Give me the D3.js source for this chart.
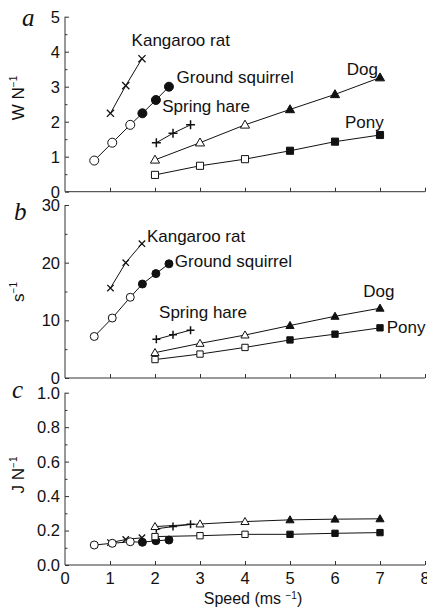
<!DOCTYPE html>
<html>
<head>
<meta charset="utf-8">
<script src="https://cdn.jsdelivr.net/npm/d3@7"></script>
<style>
  body { margin: 0; background: #fff; }
  svg text { fill: #111; }
</style>
</head>
<body>
<div id="chart"></div>
<script>
// speeds (m/s) per animal
const ratSpeed = [1.01, 1.35, 1.71];
const squirrelSpeed = [0.65, 1.05, 1.45, 1.72, 2.02, 2.31];
const hareSpeed = [2.03, 2.40, 2.79];
const dogSpeed = [2, 3, 4, 5, 6, 7];
const ponySpeed = [2, 3, 4, 5, 6, 7];

// open = 0, filled = 1 (gait change)
const squirrelGait = [0, 0, 0, 1, 1, 1];
const dogGait = [0, 0, 0, 1, 1, 1];
const ponyGait = [0, 0, 0, 1, 1, 1];

// panel a: W N-1
const ratA = [2.24, 3.03, 3.80];
const squirrelA = [0.89, 1.40, 1.91, 2.24, 2.62, 3.00];
const hareA = [1.40, 1.67, 1.91];
const dogA = [0.91, 1.40, 1.91, 2.35, 2.78, 3.26];
const ponyA = [0.48, 0.74, 0.93, 1.17, 1.43, 1.62];

// panel b: s-1
const ratB = [15.6, 20.0, 23.3];
const squirrelB = [7.2, 10.4, 14.0, 16.3, 18.1, 19.8];
const hareB = [6.7, 7.5, 8.3];
const dogB = [4.4, 6.0, 7.45, 9.1, 10.7, 12.1];
const ponyB = [3.2, 4.15, 5.3, 6.6, 7.6, 8.7];

// panel c: J N-1
const ratC = [0.130, 0.148, 0.158];
const squirrelC = [0.116, 0.126, 0.135, 0.132, 0.141, 0.145];
const hareC = [0.210, 0.223, 0.236];
const dogC = [0.223, 0.238, 0.252, 0.262, 0.266, 0.268];
const ponyC = [0.165, 0.170, 0.178, 0.178, 0.184, 0.188];

const xTicks = [0, 1, 2, 3, 4, 5, 6, 7, 8];
const seriesNames = ["Kangaroo rat", "Ground squirrel", "Spring hare", "Dog", "Pony"];

const width = 427, height = 610;
const sans = "'Liberation Sans', Arial, sans-serif";
const svg = d3.select("#chart").append("svg")
  .attr("width", width).attr("height", height)
  .style("font-family", sans);

const x = d3.scaleLinear().domain([0, 8]).range([65, 425]);

const panels = [
  { letter: "a", unit: "W N", sup: "\u22121", top: 16.7, bottom: 191.7, max: 5,
    major: d3.range(0, 5.01, 1), minor: d3.range(0.5, 5, 1), fmt: d3.format("d"),
    r: 4.5, data: [ratA, squirrelA, hareA, dogA, ponyA],
    labels: [[1.48, 4.17], [2.48, 3.10], [2.16, 2.29], [6.26, 3.33], [6.22, 1.81]],
    titleY: 98, letterX: 22, letterY: 26 },
  { letter: "b", unit: "s", sup: "\u22121", top: 205, bottom: 378, max: 30,
    major: d3.range(0, 30.1, 10), minor: d3.range(5, 30, 10), fmt: d3.format("d"),
    r: 4, data: [ratB, squirrelB, hareB, dogB, ponyB],
    labels: [[1.82, 23.6], [2.44, 19.3], [2.09, 10.4], [6.63, 14.1], [7.15, 7.85]],
    titleY: 292, letterX: 14, letterY: 220 },
  { letter: "c", unit: "J N", sup: "\u22121", top: 392.7, bottom: 565, max: 1,
    major: d3.range(0, 1.01, 0.2), minor: d3.range(0.1, 1, 0.2), fmt: d3.format(".1f"),
    r: 4, data: [ratC, squirrelC, hareC, dogC, ponyC],
    labels: null, titleY: 475, letterX: 12, letterY: 398 }
];

const speeds = [ratSpeed, squirrelSpeed, hareSpeed, dogSpeed, ponySpeed];
const gaits = [null, squirrelGait, null, dogGait, ponyGait];
const markers = ["x", "circle", "plus", "triangle", "square"];

function drawMarker(g, type, cx, cy, r, filled) {
  if (type === "x") {
    const s = r * 0.8;
    g.append("path")
      .attr("d", `M${cx - s},${cy - s}L${cx + s},${cy + s}M${cx - s},${cy + s}L${cx + s},${cy - s}`)
      .attr("stroke", "#111").attr("stroke-width", 1.3).attr("fill", "none");
  } else if (type === "plus") {
    const s = r;
    g.append("path")
      .attr("d", `M${cx - s},${cy}L${cx + s},${cy}M${cx},${cy - s}L${cx},${cy + s}`)
      .attr("stroke", "#111").attr("stroke-width", 1.5).attr("fill", "none");
  } else {
    const area = { circle: Math.PI * r * r, triangle: r * r * 1.8, square: r * r * 2.5 }[type];
    const sym = { circle: d3.symbolCircle, triangle: d3.symbolTriangle, square: d3.symbolSquare }[type];
    g.append("path")
      .attr("transform", `translate(${cx},${cy + (type === "triangle" ? 0.6 : 0)})`)
      .attr("d", d3.symbol().type(sym).size(area)())
      .attr("fill", filled ? "#111" : "#fff")
      .attr("stroke", "#111").attr("stroke-width", 1);
  }
}

panels.forEach(p => {
  const y = d3.scaleLinear().domain([0, p.max]).range([p.bottom, p.top]);
  const g = svg.append("g");

  // y axis (ticks inward)
  const yAxis = g.append("g").attr("transform", `translate(${x(0)},0)`)
    .call(d3.axisRight(y).tickValues(p.major).tickSize(4).tickFormat(""));
  yAxis.select(".domain").attr("d", `M0,${y(p.max)}V${y(0)}`);
  g.append("g").attr("transform", `translate(${x(0)},0)`)
    .call(d3.axisRight(y).tickValues(p.minor).tickSize(2.5).tickFormat(""))
    .select(".domain").remove();
  g.selectAll(".domain, .tick line").attr("stroke", "#333").attr("stroke-width", 1);

  p.major.forEach(v => {
    g.append("text").attr("x", 60).attr("y", y(v)).attr("dy", "0.36em")
      .attr("text-anchor", "end").attr("font-size", 16.5).text(p.fmt(v));
  });

  // x axis (ticks inward)
  const xAxis = g.append("g").attr("transform", `translate(0,${p.bottom})`)
    .call(d3.axisTop(x).tickValues(xTicks.slice(1)).tickSize(4).tickFormat(""));
  xAxis.select(".domain").attr("d", `M${x(0)},0H${x(8)}`);
  xAxis.selectAll(".domain, .tick line").attr("stroke", "#333").attr("stroke-width", 1);

  // panel letter
  g.append("text").attr("x", p.letterX).attr("y", p.letterY)
    .style("font-family", "'Liberation Serif', 'DejaVu Serif', serif")
    .style("font-style", "italic").attr("font-size", 25).text(p.letter);

  // y title
  const t = g.append("text")
    .attr("transform", `translate(24,${p.titleY}) rotate(-90)`)
    .attr("text-anchor", "middle").attr("font-size", 17);
  t.append("tspan").text(p.unit);
  t.append("tspan").attr("dy", -7).attr("font-size", 10).text(p.sup);

  const line = d3.line().x(d => x(d[0])).y(d => y(d[1]));

  p.data.forEach((vals, i) => {
    const pts = vals.map((v, j) => [speeds[i][j], v]);
    g.append("path").datum(pts).attr("d", line)
      .attr("fill", "none").attr("stroke", "#111").attr("stroke-width", 1);
  });
  p.data.forEach((vals, i) => {
    vals.forEach((v, j) => {
      const filled = gaits[i] ? gaits[i][j] === 1 : false;
      drawMarker(g, markers[i], x(speeds[i][j]), y(v), p.r, filled);
    });
  });

  if (p.labels) {
    p.labels.forEach((l, i) => {
      g.append("text").attr("x", x(l[0])).attr("y", y(l[1]))
        .attr("font-size", 17).text(seriesNames[i]);
    });
  }

  if (p.letter === "c") {
    xTicks.forEach(v => {
      g.append("text").attr("x", x(v)).attr("y", 584)
        .attr("text-anchor", "middle").attr("font-size", 16.5).text(v);
    });
    const s = g.append("text").attr("x", 253).attr("y", 604)
      .attr("text-anchor", "middle").attr("font-size", 16);
    s.append("tspan").text("Speed (ms ");
    s.append("tspan").attr("dy", -5).attr("font-size", 10).text("\u22121");
    s.append("tspan").attr("dy", 5).text(")");
  }
});
</script>
</body>
</html>
